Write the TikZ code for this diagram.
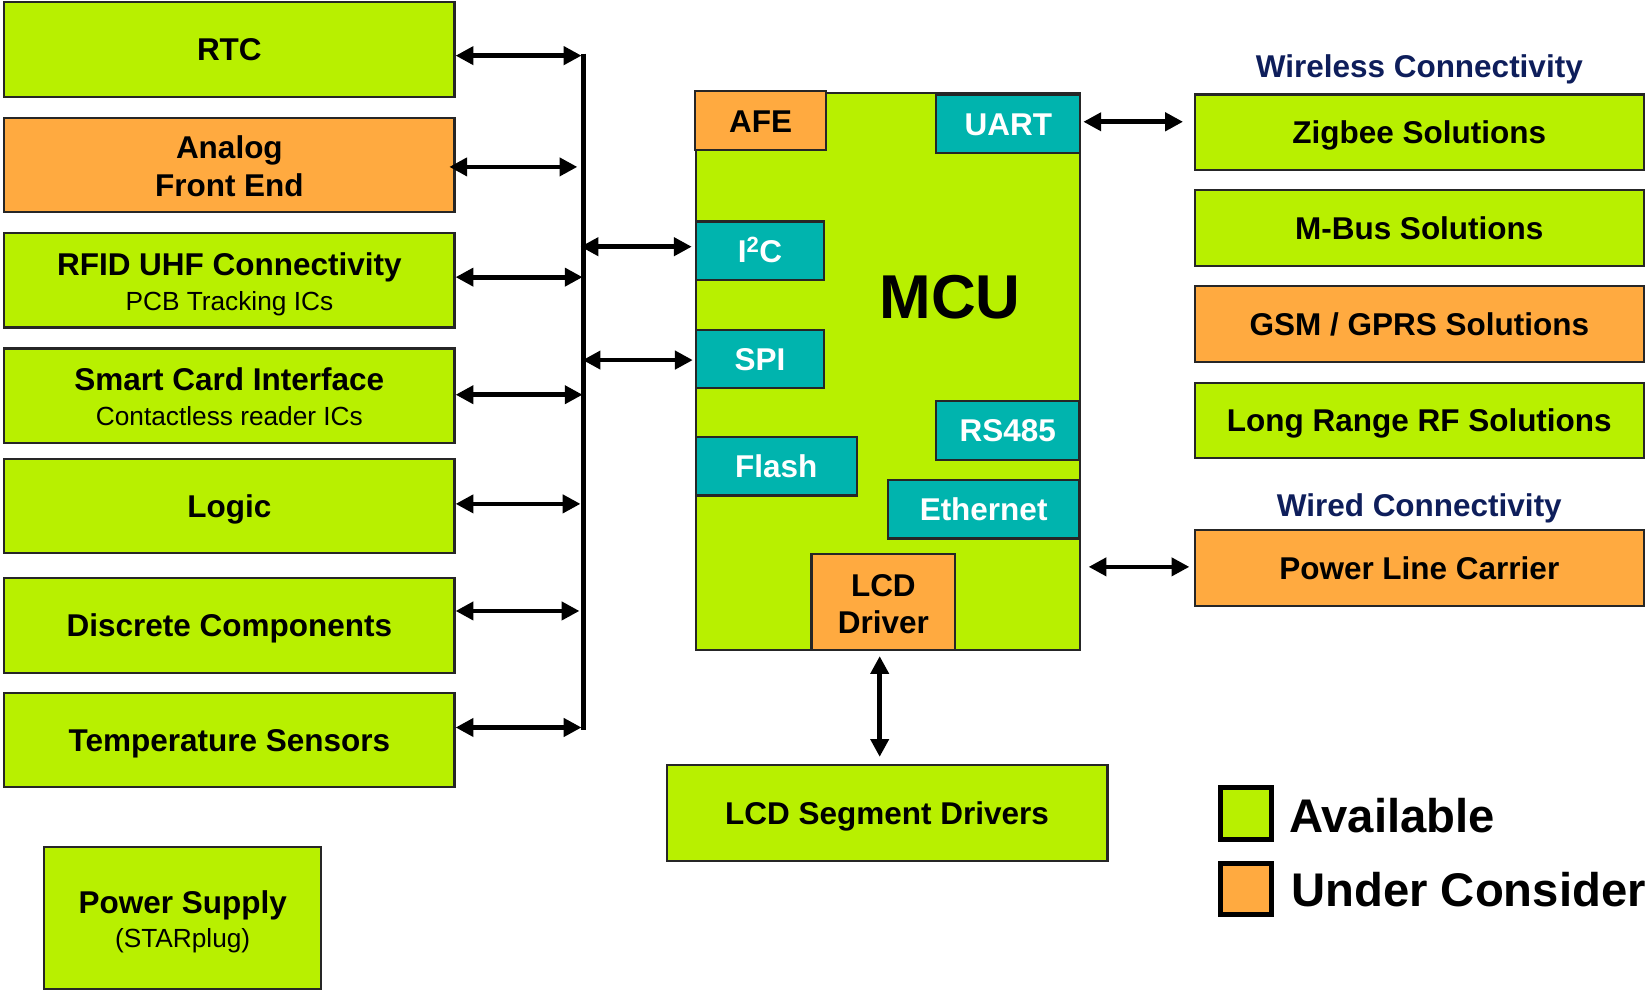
\documentclass[tikz,border=0pt]{standalone}
\usepackage{fontspec}
\setmainfont{Liberation Sans}
\usetikzlibrary{arrows.meta}
\definecolor{avail}{HTML}{B8F000}
\definecolor{consid}{HTML}{FFAA40}
\definecolor{iface}{HTML}{00B4AE}
\definecolor{navy}{HTML}{0E1E5B}
\newcommand{\topstrut}[1]{\rule{0pt}{#1}}
\begin{document}
\begin{tikzpicture}[x=1pt,y=-1pt,
  box/.style={draw=black!85, line width=2pt, rectangle, inner sep=0pt, align=center,
    font=\fontsize{30}{36}\selectfont\bfseries},
  capc/.style={text height=21.5pt, text depth=0pt},
  gbox/.style={box, fill=avail},
  obox/.style={box, fill=consid},
  tbox/.style={box, fill=iface, text=white},
  leftbox/.style={minimum width=429pt, minimum height=90pt},
  rightbox/.style={minimum width=428pt, minimum height=72pt, capc},
  modbox/.style={minimum height=56pt, capc},
  grouplabel/.style={text=navy, font=\fontsize{30}{36}\selectfont\bfseries, inner sep=0pt, capc},
  legendsq/.style={draw=black, line width=5pt, minimum size=49pt, inner sep=0pt},
  legendtxt/.style={anchor=west, inner sep=0pt, font=\fontsize{45}{54}\selectfont\bfseries},
  biarrow/.style={line width=4.5pt, {Triangle[length=17pt,width=17pt]}-{Triangle[length=17pt,width=17pt]}},
  busline/.style={line width=5pt},
]
\useasboundingbox (0,0) rectangle (1568,943);

% left column
\node[gbox, leftbox, capc] (rtc) at (218.5,47) {RTC};
\node[obox, leftbox] (afe) at (218.5,157) {\topstrut{25pt}Analog\\Front End};
\node[gbox, leftbox] (rfid) at (218.5,267) {\topstrut{29pt}RFID UHF Connectivity\\[-3pt]{\fontsize{25}{30}\selectfont\mdseries PCB Tracking ICs}};
\node[gbox, leftbox] (smart) at (218.5,377) {\topstrut{24pt}Smart Card Interface\\[-3pt]{\fontsize{25}{30}\selectfont\mdseries Contactless reader ICs}};
\node[gbox, leftbox, capc] (logic) at (218.5,482) {Logic};
\node[gbox, leftbox, capc] (disc) at (218.5,596) {Discrete Components};
\node[gbox, leftbox, capc] (temp) at (218.5,705) {Temperature Sensors};
\node[gbox, minimum width=264pt, minimum height=135pt] (psu) at (174,874.5) {\topstrut{29pt}Power Supply\\[-3pt]{\fontsize{25}{30}\selectfont\mdseries (STARplug)}};

% bus
\coordinate (bustop) at (556,51);
\coordinate (busbot) at (556,695);
\draw[busline] (bustop) -- (busbot);
\coordinate (b1) at (554,53);
\coordinate (b2) at (550,159);
\coordinate (b3) at (555,264);
\coordinate (b4) at (555,376);
\coordinate (b5) at (553,480);
\coordinate (b6) at (552,582);
\coordinate (b7) at (554,693);
\draw[biarrow] (rtc.east |- b1) -- (b1);
\draw[biarrow] ([xshift=-6pt]afe.east |- b2) -- (b2);
\draw[biarrow] (rfid.east |- b3) -- (b3);
\draw[biarrow] (smart.east |- b4) -- (b4);
\draw[biarrow] (logic.east |- b5) -- (b5);
\draw[biarrow] (disc.east |- b6) -- (b6);
\draw[biarrow] (temp.east |- b7) -- (b7);

% MCU
\node[gbox, minimum width=366pt, minimum height=530pt] (mcu) at (846,354) {};
\node[font=\fontsize{59}{70}\selectfont\bfseries, inner sep=0pt] (mcutxt) at (905,283) {MCU};
\node[obox, modbox, minimum width=125pt] (afem) at (724.5,115) {AFE};
\node[tbox, modbox, minimum width=137pt] (uart) at (960.5,118) {UART};
\node[tbox, modbox, minimum width=122pt] (i2c) at (724,239) {I\textsuperscript{2}C};
\node[tbox, modbox, minimum width=122pt] (spi) at (724,342) {SPI};
\node[tbox, modbox, minimum width=136pt] (rs) at (960,410) {RS485};
\node[tbox, modbox, minimum width=153pt] (flash) at (739.5,444) {Flash};
\node[tbox, modbox, minimum width=182pt] (eth) at (937,485) {Ethernet};
\node[obox, minimum width=137pt, minimum height=91pt] (lcdd) at (841.5,573.5) {\topstrut{25pt}LCD\\Driver};

\coordinate (bi2c) at (553,235);
\coordinate (bspi) at (555,343);
\draw[biarrow] (bi2c) -- ([xshift=-3pt]i2c.west |- bi2c);
\draw[biarrow] (bspi) -- ([xshift=-2pt]spi.west |- bspi);

% LCD segment drivers
\node[gbox, minimum width=420pt, minimum height=91pt, capc] (seg) at (845,774.5) {LCD Segment Drivers};
\draw[biarrow] ([xshift=-3.5pt,yshift=-5pt]lcdd.south) -- ([xshift=-3.5pt,yshift=7pt]lcdd.south |- seg.north);

% right column
\node[grouplabel] (wless) at (1352,63) {Wireless Connectivity};
\node[gbox, rightbox] (zig) at (1352,126) {Zigbee Solutions};
\node[gbox, rightbox] (mbus) at (1352,217) {M-Bus Solutions};
\node[obox, rightbox] (gsm) at (1352,308.5) {GSM / GPRS Solutions};
\node[gbox, rightbox] (lrf) at (1352,400.5) {Long Range RF Solutions};
\node[grouplabel] (wired) at (1352,481) {Wired Connectivity};
\node[obox, rightbox] (plc) at (1352,541) {Power Line Carrier};

\coordinate (zarr) at (1127,116);
\draw[biarrow] ([xshift=2pt]uart.east |- zarr) -- (zarr);
\coordinate (parr) at (1037,540);
\draw[biarrow] (parr) -- ([xshift=-4pt]plc.west |- parr);

% legend
\node[legendsq, fill=avail] (lga) at (1187,775) {};
\node[legendsq, fill=consid] (lgu) at (1187,847) {};
\node[legendtxt] (lgatxt) at (1228,777) {Available};
\node[legendtxt] (lgutxt) at (1230,847) {Under Consideration};
\end{tikzpicture}
\end{document}
